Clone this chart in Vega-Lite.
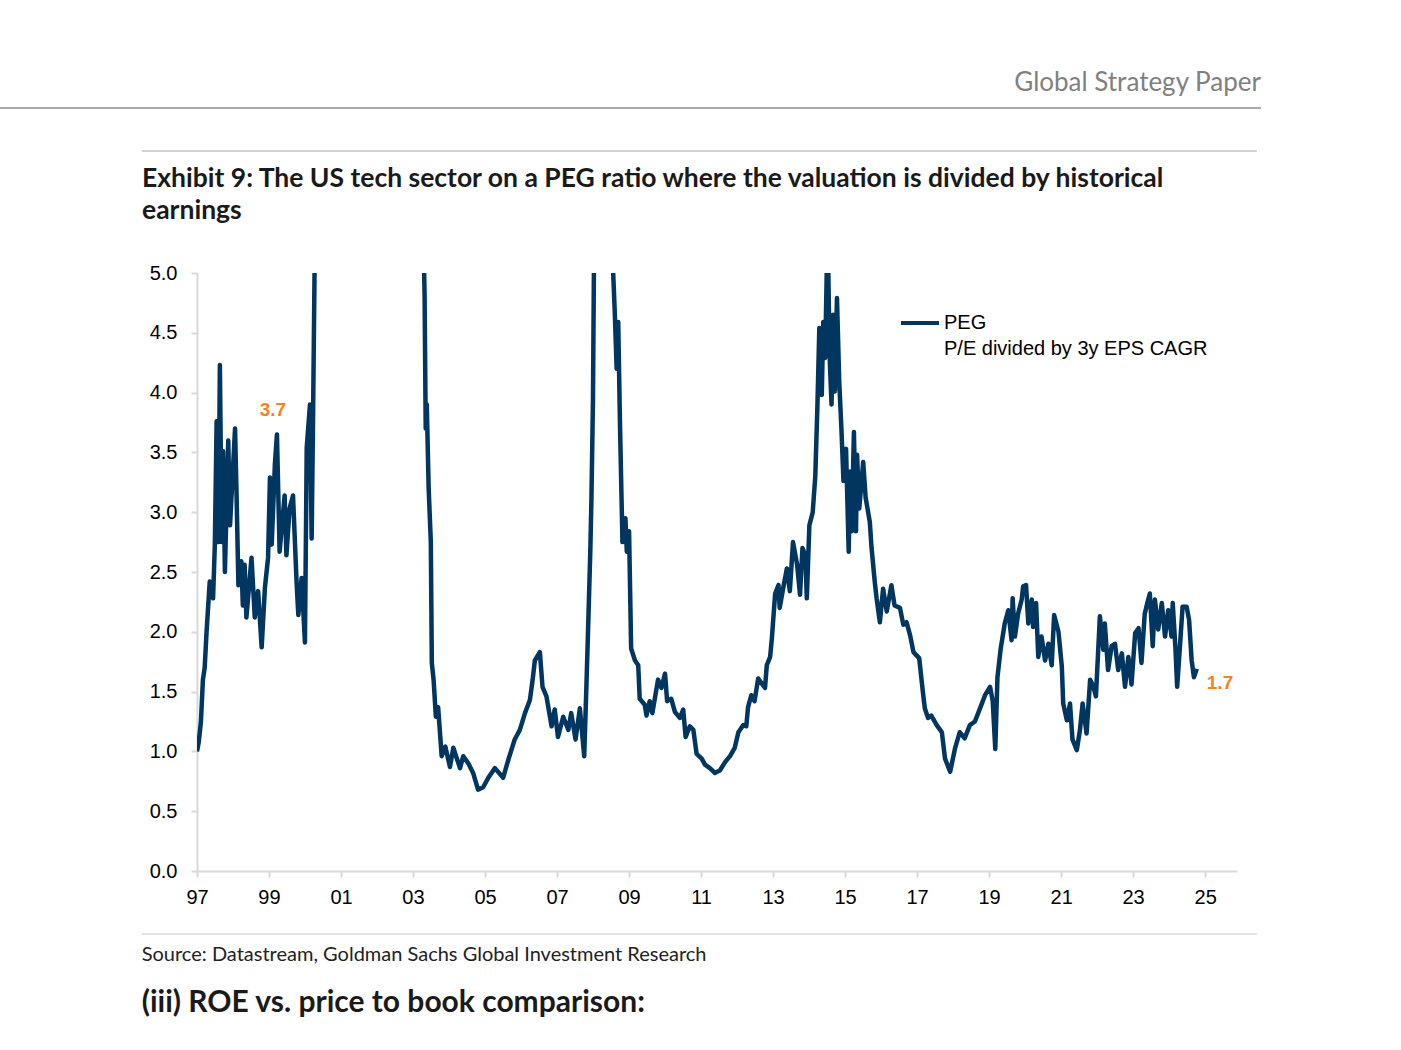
{
  "$schema": "https://vega.github.io/schema/vega-lite/v6.json",
  "width": 1040,
  "height": 598,
  "autosize": {"type": "none"},
  "padding": {"left": 197, "top": 273, "right": 164, "bottom": 179},
  "background": "white",
  "title": {
    "text": ["Exhibit 9: The US tech sector on a PEG ratio where the valuation is divided by historical", "earnings"],
    "anchor": "start",
    "frame": "group",
    "dx": -55,
    "dy": 195,
    "offset": 40,
    "font": "Lato",
    "fontSize": 26.5,
    "fontWeight": "bold",
    "color": "#1a1a1a",
    "lineHeight": 32
  },
  "config": {
    "view": {"stroke": null},
    "style": {"guide-label": {"lineHeight": 26}}
  },
  "layer": [
    {
      "data": {
        "format": {"parse": {"date": "date:'%Y-%m-%d'"}},
        "values": [
          {"date": "1997-01-01", "peg": 1.00},
          {"date": "1997-01-19", "peg": 1.08},
          {"date": "1997-02-10", "peg": 1.25},
          {"date": "1997-03-02", "peg": 1.60},
          {"date": "1997-03-20", "peg": 1.70},
          {"date": "1997-04-08", "peg": 2.00},
          {"date": "1997-05-10", "peg": 2.42},
          {"date": "1997-06-13", "peg": 2.28},
          {"date": "1997-07-01", "peg": 2.73},
          {"date": "1997-07-19", "peg": 3.76},
          {"date": "1997-08-07", "peg": 2.75},
          {"date": "1997-08-21", "peg": 4.23},
          {"date": "1997-09-09", "peg": 2.75},
          {"date": "1997-09-23", "peg": 3.51},
          {"date": "1997-10-11", "peg": 2.50},
          {"date": "1997-11-14", "peg": 3.60},
          {"date": "1997-12-02", "peg": 2.89},
          {"date": "1998-01-22", "peg": 3.70},
          {"date": "1998-02-07", "peg": 3.12},
          {"date": "1998-02-25", "peg": 2.39},
          {"date": "1998-03-27", "peg": 2.59},
          {"date": "1998-04-11", "peg": 2.22},
          {"date": "1998-04-29", "peg": 2.56},
          {"date": "1998-05-17", "peg": 2.12},
          {"date": "1998-07-08", "peg": 2.62},
          {"date": "1998-08-10", "peg": 2.12},
          {"date": "1998-09-13", "peg": 2.34},
          {"date": "1998-10-19", "peg": 1.87},
          {"date": "1998-11-21", "peg": 2.37},
          {"date": "1998-12-23", "peg": 2.62},
          {"date": "1999-01-11", "peg": 3.29},
          {"date": "1999-01-29", "peg": 2.73},
          {"date": "1999-03-02", "peg": 3.40},
          {"date": "1999-03-23", "peg": 3.65},
          {"date": "1999-04-19", "peg": 2.67},
          {"date": "1999-06-09", "peg": 3.14},
          {"date": "1999-06-27", "peg": 2.64},
          {"date": "1999-07-29", "peg": 3.03},
          {"date": "1999-09-02", "peg": 3.14},
          {"date": "1999-10-08", "peg": 2.42},
          {"date": "1999-10-26", "peg": 2.14},
          {"date": "1999-11-28", "peg": 2.45},
          {"date": "2000-01-01", "peg": 1.91},
          {"date": "2000-01-19", "peg": 3.54},
          {"date": "2000-02-21", "peg": 3.90},
          {"date": "2000-03-09", "peg": 2.78},
          {"date": "2000-03-23", "peg": 3.76},
          {"date": "2000-04-11", "peg": 5.30},
          {"date": "2000-05-01", "peg": 7.00},
          {"date": "2000-09-01", "peg": 10.00},
          {"date": "2001-06-01", "peg": 14.00},
          {"date": "2002-06-01", "peg": 16.00},
          {"date": "2003-01-01", "peg": 10.00},
          {"date": "2003-04-01", "peg": 6.00},
          {"date": "2003-04-29", "peg": 4.80},
          {"date": "2003-05-10", "peg": 3.70},
          {"date": "2003-05-21", "peg": 3.90},
          {"date": "2003-06-09", "peg": 3.20},
          {"date": "2003-07-01", "peg": 2.75},
          {"date": "2003-07-11", "peg": 1.74},
          {"date": "2003-07-29", "peg": 1.60},
          {"date": "2003-08-21", "peg": 1.29},
          {"date": "2003-09-13", "peg": 1.37},
          {"date": "2003-10-19", "peg": 0.96},
          {"date": "2003-11-25", "peg": 1.04},
          {"date": "2004-01-11", "peg": 0.87},
          {"date": "2004-02-14", "peg": 1.03},
          {"date": "2004-04-22", "peg": 0.86},
          {"date": "2004-05-25", "peg": 0.96},
          {"date": "2004-07-15", "peg": 0.90},
          {"date": "2004-09-02", "peg": 0.82},
          {"date": "2004-10-22", "peg": 0.68},
          {"date": "2004-12-13", "peg": 0.70},
          {"date": "2005-02-03", "peg": 0.78},
          {"date": "2005-04-11", "peg": 0.86},
          {"date": "2005-07-04", "peg": 0.78},
          {"date": "2005-08-25", "peg": 0.93},
          {"date": "2005-10-29", "peg": 1.10},
          {"date": "2005-12-20", "peg": 1.18},
          {"date": "2006-02-10", "peg": 1.32},
          {"date": "2006-04-01", "peg": 1.43},
          {"date": "2006-04-29", "peg": 1.60},
          {"date": "2006-05-21", "peg": 1.76},
          {"date": "2006-07-11", "peg": 1.83},
          {"date": "2006-08-07", "peg": 1.54},
          {"date": "2006-09-16", "peg": 1.46},
          {"date": "2006-11-07", "peg": 1.21},
          {"date": "2006-12-09", "peg": 1.35},
          {"date": "2007-01-11", "peg": 1.12},
          {"date": "2007-03-05", "peg": 1.29},
          {"date": "2007-04-26", "peg": 1.18},
          {"date": "2007-05-25", "peg": 1.32},
          {"date": "2007-07-08", "peg": 1.10},
          {"date": "2007-08-21", "peg": 1.36},
          {"date": "2007-10-04", "peg": 0.96},
          {"date": "2007-10-26", "peg": 1.54},
          {"date": "2007-11-14", "peg": 2.07},
          {"date": "2007-12-05", "peg": 2.68},
          {"date": "2007-12-16", "peg": 3.10},
          {"date": "2008-01-01", "peg": 3.95},
          {"date": "2008-01-11", "peg": 5.10},
          {"date": "2008-02-07", "peg": 7.00},
          {"date": "2008-04-22", "peg": 10.00},
          {"date": "2008-06-20", "peg": 6.00},
          {"date": "2008-07-19", "peg": 5.10},
          {"date": "2008-08-10", "peg": 4.65},
          {"date": "2008-08-28", "peg": 4.20},
          {"date": "2008-09-13", "peg": 4.59},
          {"date": "2008-10-01", "peg": 3.73},
          {"date": "2008-10-26", "peg": 2.75},
          {"date": "2008-11-25", "peg": 2.95},
          {"date": "2008-12-09", "peg": 2.67},
          {"date": "2009-01-01", "peg": 2.84},
          {"date": "2009-01-22", "peg": 1.86},
          {"date": "2009-03-02", "peg": 1.76},
          {"date": "2009-04-04", "peg": 1.72},
          {"date": "2009-04-19", "peg": 1.44},
          {"date": "2009-06-09", "peg": 1.39},
          {"date": "2009-06-27", "peg": 1.30},
          {"date": "2009-07-29", "peg": 1.42},
          {"date": "2009-08-25", "peg": 1.32},
          {"date": "2009-10-22", "peg": 1.60},
          {"date": "2009-11-25", "peg": 1.53},
          {"date": "2010-01-01", "peg": 1.65},
          {"date": "2010-01-22", "peg": 1.42},
          {"date": "2010-03-05", "peg": 1.44},
          {"date": "2010-04-11", "peg": 1.33},
          {"date": "2010-06-02", "peg": 1.28},
          {"date": "2010-07-04", "peg": 1.35},
          {"date": "2010-07-29", "peg": 1.12},
          {"date": "2010-09-09", "peg": 1.21},
          {"date": "2010-10-15", "peg": 1.18},
          {"date": "2010-11-17", "peg": 0.98},
          {"date": "2011-01-08", "peg": 0.94},
          {"date": "2011-02-10", "peg": 0.89},
          {"date": "2011-04-01", "peg": 0.86},
          {"date": "2011-05-21", "peg": 0.82},
          {"date": "2011-07-11", "peg": 0.84},
          {"date": "2011-09-02", "peg": 0.91},
          {"date": "2011-10-22", "peg": 0.96},
          {"date": "2011-12-09", "peg": 1.03},
          {"date": "2012-01-15", "peg": 1.16},
          {"date": "2012-03-05", "peg": 1.22},
          {"date": "2012-04-04", "peg": 1.21},
          {"date": "2012-04-22", "peg": 1.37},
          {"date": "2012-05-25", "peg": 1.47},
          {"date": "2012-06-27", "peg": 1.42},
          {"date": "2012-08-03", "peg": 1.61},
          {"date": "2012-10-11", "peg": 1.53},
          {"date": "2012-10-29", "peg": 1.72},
          {"date": "2012-12-02", "peg": 1.79},
          {"date": "2012-12-20", "peg": 1.95},
          {"date": "2013-01-22", "peg": 2.32},
          {"date": "2013-02-25", "peg": 2.39},
          {"date": "2013-03-09", "peg": 2.20},
          {"date": "2013-04-19", "peg": 2.39},
          {"date": "2013-05-21", "peg": 2.53},
          {"date": "2013-06-20", "peg": 2.34},
          {"date": "2013-07-22", "peg": 2.75},
          {"date": "2013-09-02", "peg": 2.56},
          {"date": "2013-10-01", "peg": 2.31},
          {"date": "2013-10-26", "peg": 2.70},
          {"date": "2013-11-25", "peg": 2.64},
          {"date": "2013-12-09", "peg": 2.28},
          {"date": "2014-01-04", "peg": 2.89},
          {"date": "2014-02-07", "peg": 3.00},
          {"date": "2014-03-05", "peg": 3.30},
          {"date": "2014-03-27", "peg": 3.90},
          {"date": "2014-04-15", "peg": 4.54},
          {"date": "2014-05-10", "peg": 3.98},
          {"date": "2014-05-25", "peg": 4.59},
          {"date": "2014-06-13", "peg": 4.29},
          {"date": "2014-07-08", "peg": 5.40},
          {"date": "2014-07-29", "peg": 4.29},
          {"date": "2014-08-17", "peg": 3.90},
          {"date": "2014-09-02", "peg": 4.65},
          {"date": "2014-09-20", "peg": 4.01},
          {"date": "2014-10-11", "peg": 4.79},
          {"date": "2014-11-03", "peg": 4.09},
          {"date": "2014-11-25", "peg": 3.70},
          {"date": "2014-12-16", "peg": 3.26},
          {"date": "2015-01-11", "peg": 3.53},
          {"date": "2015-02-07", "peg": 2.67},
          {"date": "2015-02-21", "peg": 3.34},
          {"date": "2015-03-09", "peg": 2.84},
          {"date": "2015-04-01", "peg": 3.67},
          {"date": "2015-04-22", "peg": 2.84},
          {"date": "2015-05-03", "peg": 3.48},
          {"date": "2015-05-25", "peg": 3.03},
          {"date": "2015-07-04", "peg": 3.42},
          {"date": "2015-07-29", "peg": 3.12},
          {"date": "2015-09-09", "peg": 2.92},
          {"date": "2015-09-27", "peg": 2.70},
          {"date": "2015-10-29", "peg": 2.42},
          {"date": "2015-11-17", "peg": 2.28},
          {"date": "2015-12-20", "peg": 2.08},
          {"date": "2016-01-22", "peg": 2.36},
          {"date": "2016-02-28", "peg": 2.17},
          {"date": "2016-04-15", "peg": 2.39},
          {"date": "2016-05-17", "peg": 2.22},
          {"date": "2016-07-11", "peg": 2.20},
          {"date": "2016-08-14", "peg": 2.06},
          {"date": "2016-09-16", "peg": 2.08},
          {"date": "2016-10-22", "peg": 1.97},
          {"date": "2016-11-25", "peg": 1.83},
          {"date": "2017-01-22", "peg": 1.78},
          {"date": "2017-02-28", "peg": 1.50},
          {"date": "2017-03-20", "peg": 1.36},
          {"date": "2017-04-22", "peg": 1.28},
          {"date": "2017-05-25", "peg": 1.30},
          {"date": "2017-07-19", "peg": 1.22},
          {"date": "2017-09-09", "peg": 1.16},
          {"date": "2017-10-11", "peg": 0.94},
          {"date": "2017-12-02", "peg": 0.83},
          {"date": "2018-01-22", "peg": 1.03},
          {"date": "2018-03-09", "peg": 1.16},
          {"date": "2018-04-29", "peg": 1.11},
          {"date": "2018-06-20", "peg": 1.22},
          {"date": "2018-08-10", "peg": 1.25},
          {"date": "2018-10-01", "peg": 1.36},
          {"date": "2018-11-21", "peg": 1.47},
          {"date": "2019-01-11", "peg": 1.54},
          {"date": "2019-02-07", "peg": 1.42},
          {"date": "2019-03-05", "peg": 1.02},
          {"date": "2019-03-27", "peg": 1.62},
          {"date": "2019-04-29", "peg": 1.86},
          {"date": "2019-06-09", "peg": 2.07},
          {"date": "2019-07-15", "peg": 2.18},
          {"date": "2019-08-17", "peg": 1.93},
          {"date": "2019-08-28", "peg": 2.28},
          {"date": "2019-09-20", "peg": 1.96},
          {"date": "2019-10-22", "peg": 2.15},
          {"date": "2019-11-28", "peg": 2.27},
          {"date": "2019-12-13", "peg": 2.38},
          {"date": "2020-01-11", "peg": 2.39},
          {"date": "2020-02-03", "peg": 2.07},
          {"date": "2020-03-09", "peg": 2.27},
          {"date": "2020-03-23", "peg": 2.04},
          {"date": "2020-04-22", "peg": 2.24},
          {"date": "2020-05-14", "peg": 1.79},
          {"date": "2020-06-16", "peg": 1.96},
          {"date": "2020-07-22", "peg": 1.76},
          {"date": "2020-08-25", "peg": 1.90},
          {"date": "2020-09-27", "peg": 1.72},
          {"date": "2020-10-22", "peg": 2.14},
          {"date": "2020-12-05", "peg": 2.00},
          {"date": "2021-01-08", "peg": 1.71},
          {"date": "2021-01-22", "peg": 1.40},
          {"date": "2021-02-28", "peg": 1.26},
          {"date": "2021-04-01", "peg": 1.40},
          {"date": "2021-04-26", "peg": 1.10},
          {"date": "2021-06-09", "peg": 1.01},
          {"date": "2021-07-11", "peg": 1.18},
          {"date": "2021-08-07", "peg": 1.40},
          {"date": "2021-09-16", "peg": 1.15},
          {"date": "2021-10-22", "peg": 1.60},
          {"date": "2021-11-25", "peg": 1.54},
          {"date": "2021-12-20", "peg": 1.46},
          {"date": "2022-01-29", "peg": 2.13},
          {"date": "2022-03-05", "peg": 1.85},
          {"date": "2022-03-20", "peg": 2.07},
          {"date": "2022-04-22", "peg": 1.68},
          {"date": "2022-05-28", "peg": 1.88},
          {"date": "2022-07-01", "peg": 1.90},
          {"date": "2022-08-03", "peg": 1.68},
          {"date": "2022-09-09", "peg": 1.82},
          {"date": "2022-10-11", "peg": 1.54},
          {"date": "2022-11-14", "peg": 1.79},
          {"date": "2022-12-16", "peg": 1.56},
          {"date": "2023-01-22", "peg": 1.99},
          {"date": "2023-02-25", "peg": 2.03},
          {"date": "2023-03-27", "peg": 1.74},
          {"date": "2023-04-29", "peg": 2.15},
          {"date": "2023-05-25", "peg": 2.24},
          {"date": "2023-06-20", "peg": 2.32},
          {"date": "2023-07-19", "peg": 1.88},
          {"date": "2023-08-10", "peg": 2.27},
          {"date": "2023-09-13", "peg": 2.02},
          {"date": "2023-10-19", "peg": 2.24},
          {"date": "2023-11-21", "peg": 1.96},
          {"date": "2023-12-23", "peg": 2.18},
          {"date": "2024-01-26", "peg": 1.96},
          {"date": "2024-02-07", "peg": 2.24},
          {"date": "2024-03-05", "peg": 1.87},
          {"date": "2024-03-23", "peg": 1.54},
          {"date": "2024-04-22", "peg": 1.90},
          {"date": "2024-05-17", "peg": 2.21},
          {"date": "2024-06-27", "peg": 2.21},
          {"date": "2024-07-22", "peg": 2.10},
          {"date": "2024-08-17", "peg": 1.76},
          {"date": "2024-09-09", "peg": 1.62},
          {"date": "2024-10-08", "peg": 1.69}
        ]
      },
      "mark": {"type": "line", "clip": true, "strokeWidth": 4.5, "strokeJoin": "round"},
      "encoding": {
        "x": {
          "field": "date",
          "type": "temporal",
          "scale": {"domain": [{"year": 1997, "month": 1, "date": 1}, {"year": 2025, "month": 11, "date": 20}], "nice": false},
          "axis": {
            "title": null,
            "grid": false,
            "format": "%y",
            "values": [
              {"year": 1997, "month": 1, "date": 1}, {"year": 1999, "month": 1, "date": 1},
              {"year": 2001, "month": 1, "date": 1}, {"year": 2003, "month": 1, "date": 1},
              {"year": 2005, "month": 1, "date": 1}, {"year": 2007, "month": 1, "date": 1},
              {"year": 2009, "month": 1, "date": 1}, {"year": 2011, "month": 1, "date": 1},
              {"year": 2013, "month": 1, "date": 1}, {"year": 2015, "month": 1, "date": 1},
              {"year": 2017, "month": 1, "date": 1}, {"year": 2019, "month": 1, "date": 1},
              {"year": 2021, "month": 1, "date": 1}, {"year": 2023, "month": 1, "date": 1},
              {"year": 2025, "month": 1, "date": 1}
            ],
            "labelFont": "Liberation Sans",
            "labelFontSize": 20,
            "labelColor": "#000000",
            "labelPadding": 10,
            "labelFlush": false,
            "labelOverlap": false,
            "domainColor": "#d9d9d9",
            "domainWidth": 2,
            "tickColor": "#d9d9d9",
            "tickWidth": 2,
            "tickSize": 6
          }
        },
        "y": {
          "field": "peg",
          "type": "quantitative",
          "scale": {"domain": [0, 5], "nice": false},
          "axis": {
            "title": null,
            "grid": false,
            "format": ".1f",
            "values": [0, 0.5, 1, 1.5, 2, 2.5, 3, 3.5, 4, 4.5, 5],
            "labelFont": "Liberation Sans",
            "labelFontSize": 20,
            "labelColor": "#000000",
            "labelPadding": 14,
            "labelFlush": false,
            "labelOverlap": false,
            "domainColor": "#d9d9d9",
            "domainWidth": 2,
            "tickColor": "#d9d9d9",
            "tickWidth": 2,
            "tickSize": 6
          }
        },
        "color": {
          "datum": "PEG",
          "scale": {"range": ["#00365f"]},
          "legend": {
            "orient": "none",
            "legendX": 702,
            "legendY": 29,
            "title": null,
            "padding": 0,
            "symbolType": "stroke",
            "symbolSize": 1444,
            "symbolStrokeWidth": 4,
            "labelExpr": "['PEG', 'P/E divided by 3y EPS CAGR']",
            "labelFont": "Liberation Sans",
            "labelFontSize": 20,
            "labelColor": "#000000",
            "labelLimit": 500,
            "labelOffset": 3
          }
        }
      }
    },
    {
      "data": {"values": [{}]},
      "mark": {"type": "rule", "color": "#8c8c8c", "strokeWidth": 1.5},
      "encoding": {
        "x": {"datum": {"year": 1991, "month": 7, "date": 11}, "type": "temporal"},
        "x2": {"datum": {"year": 2026, "month": 7, "date": 21}},
        "y": {"datum": 6.38, "type": "quantitative"}
      }
    },
    {
      "data": {"values": [{}]},
      "mark": {"type": "rule", "color": "#a6a6a6", "strokeWidth": 1},
      "encoding": {
        "x": {"datum": {"year": 1995, "month": 6, "date": 20}, "type": "temporal"},
        "x2": {"datum": {"year": 2026, "month": 6, "date": 10}},
        "y": {"datum": 6.02, "type": "quantitative"}
      }
    },
    {
      "data": {"values": [{}]},
      "mark": {"type": "rule", "color": "#cccccc", "strokeWidth": 1},
      "encoding": {
        "x": {"datum": {"year": 1995, "month": 6, "date": 20}, "type": "temporal"},
        "x2": {"datum": {"year": 2026, "month": 6, "date": 10}},
        "y": {"datum": -0.527, "type": "quantitative"}
      }
    },
    {
      "data": {"values": [{}]},
      "mark": {"type": "text", "text": "Global Strategy Paper", "align": "right", "baseline": "middle", "font": "Lato", "fontSize": 26, "color": "#808080"},
      "encoding": {
        "x": {"datum": {"year": 2026, "month": 7, "date": 21}, "type": "temporal"},
        "y": {"datum": 6.589, "type": "quantitative"}
      }
    },
    {
      "data": {"values": [{}]},
      "mark": {"type": "text", "text": "Source: Datastream, Goldman Sachs Global Investment Research", "align": "left", "baseline": "middle", "font": "Lato", "fontSize": 20, "color": "#222222"},
      "encoding": {
        "x": {"datum": {"year": 1995, "month": 6, "date": 20}, "type": "temporal"},
        "y": {"datum": -0.702, "type": "quantitative"}
      }
    },
    {
      "data": {"values": [{}]},
      "mark": {"type": "text", "text": "(iii) ROE vs. price to book comparison:", "align": "left", "baseline": "middle", "font": "Lato", "fontSize": 30, "fontWeight": "bold", "color": "#1a1a1a"},
      "encoding": {
        "x": {"datum": {"year": 1995, "month": 6, "date": 20}, "type": "temporal"},
        "y": {"datum": -1.104, "type": "quantitative"}
      }
    },
    {
      "data": {"values": [{}]},
      "mark": {"type": "text", "text": "3.7", "align": "center", "baseline": "middle", "dx": -4, "dy": -24, "font": "Liberation Sans", "fontSize": 19, "fontWeight": "bold", "color": "#f5821f"},
      "encoding": {
        "x": {"datum": {"year": 1999, "month": 3, "date": 23}, "type": "temporal"},
        "y": {"datum": 3.65, "type": "quantitative"}
      }
    },
    {
      "data": {"values": [{}]},
      "mark": {"type": "text", "text": "1.7", "align": "left", "baseline": "middle", "dx": 10, "dy": 14, "font": "Liberation Sans", "fontSize": 19, "fontWeight": "bold", "color": "#f5821f"},
      "encoding": {
        "x": {"datum": {"year": 2024, "month": 10, "date": 8}, "type": "temporal"},
        "y": {"datum": 1.69, "type": "quantitative"}
      }
    }
  ]
}
